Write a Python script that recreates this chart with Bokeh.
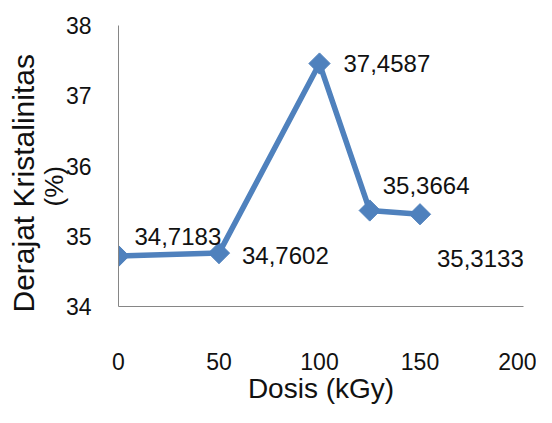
import math
from bokeh.plotting import figure
from bokeh.models import Range1d, Title, LabelSet, ColumnDataSource, FixedTicker
from bokeh.core.properties import value
from bokeh.embed import file_html
from bokeh.resources import INLINE

# data
dose = [0, 50, 100, 125, 150]
crystallinity = [34.7183, 34.7602, 37.4587, 35.3664, 35.3133]
value_labels = ["34,7183", "34,7602", "37,4587", "35,3664", "35,3133"]
x_ticks = [0, 50, 100, 150, 200]
y_ticks = [34, 35, 36, 37, 38]

# label placement (screen px)
label_dx = [16, 23, 24, 13, 17]
label_dy = [20, -2, 0, 25, -44]

BLUE = "#4F81BD"
AXIS = "#868686"
SANS = "Liberation Sans"
INK = "#111111"

src = ColumnDataSource(dict(x=dose, y=crystallinity, t=value_labels,
                            dx=label_dx, dy=label_dy))

p = figure(width=536, height=407, output_backend="svg", toolbar_location=None,
           x_range=Range1d(0, 201.5), y_range=Range1d(34, 38.0),
           min_border_left=117, min_border_right=13,
           min_border_top=25, min_border_bottom=101)
p.outline_line_color = None
p.background_fill_color = "white"
p.border_fill_color = "white"
p.xgrid.visible = False
p.ygrid.visible = False

p.line("x", "y", source=src, line_color=BLUE, line_width=5.5)
p.scatter("x", "y", source=src, marker="square", angle=math.pi / 4, size=15,
          fill_color=BLUE, line_color=BLUE)

labels = LabelSet(x="x", y="y", text="t", source=src, x_offset="dx", y_offset="dy",
                  text_align="left", text_baseline="middle",
                  text_font=value(SANS), text_font_size=value("24px"),
                  text_color=value(INK))
p.add_layout(labels)

xa = p.xaxis[0]
xa.ticker = FixedTicker(ticks=x_ticks)
xa.axis_line_color = AXIS
xa.major_tick_line_color = None
xa.minor_tick_line_color = None
xa.major_label_standoff = 40
xa.major_label_text_font = SANS
xa.major_label_text_font_size = "23px"
xa.major_label_text_color = INK
xa.axis_label = "Dosis (kGy)"
xa.axis_label_text_font = SANS
xa.axis_label_text_font_size = "28px"
xa.axis_label_text_font_style = "normal"
xa.axis_label_text_color = INK
xa.axis_label_standoff = 0

ya = p.yaxis[0]
ya.ticker = FixedTicker(ticks=y_ticks)
ya.axis_line_color = AXIS
ya.major_tick_line_color = None
ya.minor_tick_line_color = None
ya.major_label_standoff = 21
ya.major_label_text_font = SANS
ya.major_label_text_font_size = "23px"
ya.major_label_text_color = INK
ya.axis_label_standoff = 0

t1 = Title(text="(%)", align="left", text_font=SANS, text_font_size="26px",
           text_font_style="normal", text_color=INK, standoff=-13, offset=100)
t2 = Title(text="Derajat Kristalinitas", align="left", text_font=SANS,
           text_font_size="30px", text_font_style="normal", text_color=INK,
           standoff=8, offset=-6)
p.add_layout(t1, "left")
p.add_layout(t2, "left")

open("out.html", "w").write(file_html(p, INLINE))
